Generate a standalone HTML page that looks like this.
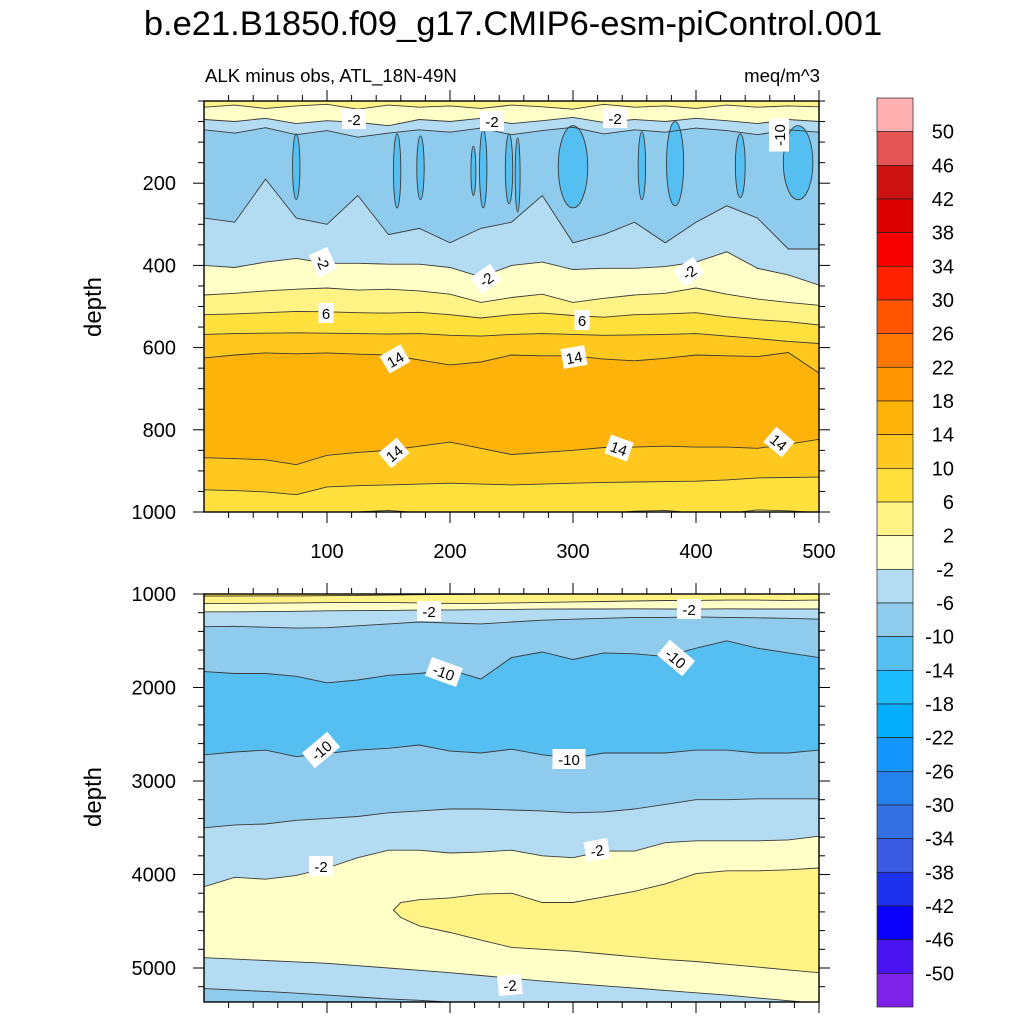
<!DOCTYPE html>
<html><head><meta charset="utf-8">
<style>
html,body{margin:0;padding:0;background:#fff;}
svg{display:block;font-family:"Liberation Sans",sans-serif;}
</style></head>
<body>
<svg id="chart" width="1024" height="1024" viewBox="0 0 1024 1024" xmlns="http://www.w3.org/2000/svg">
<defs>
<clipPath id="clipTop"><rect x="204" y="101" width="615" height="411"/></clipPath>
<clipPath id="clipBot"><rect x="204" y="594" width="615" height="408"/></clipPath>
</defs>
<text x="513" y="35" font-size="34.5" text-anchor="middle" fill="#000">b.e21.B1850.f09_g17.CMIP6-esm-piControl.001</text>
<text x="205" y="82" font-size="18.6" fill="#000">ALK minus obs, ATL_18N-49N</text>
<text x="820" y="82" font-size="18.6" text-anchor="end" fill="#000">meq/m^3</text>
<text transform="translate(101,307) rotate(-90)" font-size="24" text-anchor="middle">depth</text>
<text transform="translate(101,797) rotate(-90)" font-size="24" text-anchor="middle">depth</text>
<g id="topPanel"></g>
<g id="botPanel"></g>
<g id="colorbar"></g>
</svg>
<script>
const YEARS = [0,25,50,75,100,125,150,175,200,225,250,275,300,325,350,375,400,425,450,475,500];
// top panel contour boundaries (depth, m)
const top_b2   = [15,10,18,12,8,20,10,15,12,18,10,14,20,8,15,12,18,10,15,12,14];
const top_bm2a = [45,50,42,55,48,52,60,45,50,42,55,48,40,52,45,50,42,48,55,45,50];
const top_bm6a = [70,78,65,82,72,88,78,70,76,66,82,72,64,80,70,76,66,72,82,70,76];
const top_bm6b = [285,295,190,285,300,230,325,310,345,310,295,230,345,325,295,345,295,255,285,360,360];
const top_bm2b = [400,405,392,383,395,395,397,397,405,428,400,392,410,407,407,403,392,367,407,423,448];
const top_b2b  = [472,468,462,458,455,460,458,462,470,490,478,470,490,480,472,468,455,470,482,490,497];
const top_b6   = [520,518,515,512,513,515,516,514,520,528,520,516,522,526,520,518,515,525,532,537,545];
const top_b10  = [568,566,565,564,565,566,567,566,570,572,568,566,568,570,569,568,566,572,578,585,590];
const top_b14a = [625,618,613,615,613,616,618,630,642,635,618,620,620,628,632,626,618,620,622,612,662];
const top_b14b = [868,870,873,885,862,855,850,840,830,845,860,855,850,843,842,840,842,842,845,835,823];
const top_b10b = [946,948,951,958,939,936,934,932,930,932,934,932,930,928,927,926,925,922,917,916,915];
const top_b6b  = [1005,1004,1003,1004,1002,1000,996,1002,1004,1003,1005,1003,1002,1004,998,996,1003,1004,995,997,1002];
// -14..-10 patches in top panel
const blobYears = [75,157,176,219,227,255,248,300,356,383,436,483];
const blobTop   = [80,80,85,110,70,90,80,60,75,50,80,60];
const blobBot   = [240,260,240,230,260,270,250,260,240,255,235,240];
const blobHalf  = [3,3,3,2,3,2,3,12,3,7,4,12];
// bottom panel boundaries
const bot_b6   = [1022,1022,1020,1020,1018,1015,1012,1008,1004,1000,1000,1000,1000,1000,1000,1000,1000,1000,1000,1000,1000];
const bot_b2   = [1100,1100,1098,1095,1092,1090,1090,1095,1100,1100,1095,1090,1085,1080,1075,1070,1068,1065,1065,1068,1065];
const bot_bm2  = [1190,1190,1188,1185,1180,1178,1175,1172,1170,1168,1165,1162,1160,1160,1158,1160,1162,1158,1160,1160,1160];
const bot_bm6  = [1350,1345,1355,1365,1360,1340,1320,1300,1310,1320,1300,1280,1270,1260,1250,1250,1245,1250,1255,1260,1270];
const bot_bm10a= [1830,1850,1850,1880,1950,1920,1870,1850,1810,1910,1680,1620,1700,1630,1640,1670,1580,1500,1580,1630,1680];
const bot_bm10b= [2720,2690,2670,2740,2705,2670,2650,2615,2680,2700,2660,2720,2755,2700,2700,2700,2670,2670,2700,2700,2670];
const bot_bm6b = [3500,3470,3460,3420,3400,3380,3340,3320,3300,3300,3310,3320,3340,3330,3300,3250,3200,3200,3190,3190,3190];
const bot_bm2b = [4130,4030,4050,4010,3930,3820,3740,3740,3770,3760,3740,3800,3820,3750,3750,3660,3640,3640,3640,3630,3590];
const bot_bm2c = [4890,4905,4920,4935,4950,4975,5000,5025,5050,5080,5110,5140,5165,5190,5215,5240,5265,5290,5320,5350,5380];
const bot_bm6c = [5220,5235,5250,5270,5290,5310,5330,5345,5365,5390,5410,5430,5450,5470,5490,5510,5530,5550,5570,5590,5610];
const wedgeYears = [154,160,175,200,225,250,275,300,325,350,375,400,425,450,475,500];
const wedgeUpper = [4380,4300,4270,4250,4210,4200,4300,4300,4240,4180,4100,3990,3960,3960,3950,3930];
const wedgeLower = [4380,4460,4550,4620,4700,4780,4800,4820,4850,4880,4910,4930,4960,4990,5020,5050];
// colorbar
const cbLabels = ["50","46","42","38","34","30","26","22","18","14","10","6","2","-2","-6","-10","-14","-18","-22","-26","-30","-34","-38","-42","-46","-50"];
const cbColors = ["#ffb0b0","#e55555","#cc1111","#dd0000","#f80000","#ff2200","#ff5500","#ff7700","#ff9500","#feb30a","#fec81e","#ffe03c","#fff385","#ffffc8","#b3dcf2","#8ecbec","#56bff2","#1bbcfc","#04aefc","#1496fc","#2382ec","#3270e4","#3a5ae2","#1e32ee","#0a00fc","#4a14f2","#7e22ea"];
const topTicks = [200,400,600,800,1000];
const botTicks = [1000,2000,3000,4000,5000];
const xTicks = [100,200,300,400,500];

const C = {p2:"#fff385",p6:"#ffe03c",p10:"#fec81e",p14:"#feb30a",z:"#ffffc8",m2:"#b3dcf2",m6:"#8ecbec",m10:"#56bff2"};
const NS = "http://www.w3.org/2000/svg";
const X0=204, X1=819;
const xS = y => X0 + (y/500)*(X1-X0);
const yTop = d => 101 + d*0.411;
const yBot = d => 594 + (d-1000)*0.0935;

function mk(tag, attrs, parent){
  const e = document.createElementNS(NS, tag);
  for (const k in attrs) e.setAttribute(k, attrs[k]);
  parent.appendChild(e); return e;
}
function linePts(xs, ds, yf){ return xs.map((y,i)=>xS(y).toFixed(1)+","+yf(ds[i]).toFixed(1)); }
function drawPanel(g, clipId, yf, dTop, dBot, bounds, colors){
  const cg = mk("g", {"clip-path":"url(#"+clipId+")"}, g);
  const edges = [YEARS.map(()=>dTop-10)].concat(bounds).concat([YEARS.map(()=>dBot+50)]);
  for (let i=0;i<edges.length-1;i++){
    const a = linePts(YEARS, edges[i], yf);
    const b = linePts(YEARS, edges[i+1], yf).reverse();
    const p = mk("polygon", {points:a.concat(b).join(" "), fill:colors[i], stroke:colors[i], "stroke-width":"0.6"}, cg);
    
    
  }
  return cg;
}
function drawLines(cg, bounds, yf){
  bounds.forEach(bd=>{
    const l = mk("polyline", {points:linePts(YEARS, bd, yf).join(" "), fill:"none", stroke:"#3a3a3a", "stroke-width":"0.9"}, cg);
    
    
  });
}
function frame(g, yt, yb, yTicksArr, yf, minorStep, dmin, dmax, showX){
  mk("rect",{x:X0,y:yt,width:X1-X0,height:yb-yt,fill:"none",stroke:"#000","stroke-width":"1.4"},g);
  for (let d=dmin; d<=dmax; d+=minorStep){
    const y=yf(d); if (y<yt-0.5||y>yb+0.5) continue;
    const major = yTicksArr.includes(d);
    const L = major?11:6;
    mk("line",{x1:X0-L,x2:X0,y1:y,y2:y,stroke:"#000","stroke-width":"1"},g);
    mk("line",{x1:X1,x2:X1+L,y1:y,y2:y,stroke:"#000","stroke-width":"1"},g);
  }
  yTicksArr.forEach(d=>{
    const t = mk("text",{x:X0-28,y:yf(d)+7,"font-size":"20","text-anchor":"end"},g);
    t.textContent = d;
    
    
  });
  for (let yr=20; yr<=500; yr+=20){
    const x=xS(yr); const major = xTicks.includes(yr); const L = major?11:6;
    mk("line",{x1:x,x2:x,y1:yt-L,y2:yt,stroke:"#000","stroke-width":"1"},g);
    mk("line",{x1:x,x2:x,y1:yb,y2:yb+L,stroke:"#000","stroke-width":"1"},g);
  }
  if (showX) xTicks.forEach(v=>{
    const t = mk("text",{x:xS(v),y:yb+46,"font-size":"20","text-anchor":"middle"},g);
    t.textContent = v;
    
    
  });
}
function clabel(g, x, y, ang, txt){
  const gg = mk("g",{transform:`translate(${x},${y}) rotate(${ang})`},g);
  
  
  const w = txt.length*9+6;
  mk("rect",{x:-w/2,y:-10,width:w,height:20,fill:"#fff"},gg);
  const t = mk("text",{x:0,y:6,"font-size":"15","text-anchor":"middle"},gg);
  t.textContent = txt;
}

// TOP PANEL
const tg = document.getElementById("topPanel");
const topBounds = [top_b2,top_bm2a,top_bm6a,top_bm6b,top_bm2b,top_b2b,top_b6,top_b10,top_b14a,top_b14b,top_b10b,top_b6b];
const topColors = [C.p2,C.z,C.m2,C.m6,C.m2,C.z,C.p2,C.p6,C.p10,C.p14,C.p10,C.p6,C.p2];
const tcg = drawPanel(tg,"clipTop",yTop,0,1000,topBounds,topColors);
blobYears.forEach((yr,i)=>{
  const cx = xS(yr), rx = xS(blobHalf[i])-X0;
  const cy = (yTop(blobTop[i])+yTop(blobBot[i]))/2, ry=(yTop(blobBot[i])-yTop(blobTop[i]))/2;
  const e = mk("ellipse",{cx:cx,cy:cy,rx:rx,ry:ry,fill:C.m10,stroke:"#3a3a3a","stroke-width":"0.9"},tcg);
  
  
});
drawLines(tcg, topBounds, yTop);
frame(tg,101,512,topTicks,yTop,50,0,1000,true);
clabel(tg,354,119,0,"-2"); clabel(tg,492,121,0,"-2"); clabel(tg,615,118,0,"-2");
clabel(tg,779,135,-90,"-10"); clabel(tg,323,262,65,"-2"); clabel(tg,486,279,-35,"-2");
clabel(tg,689,272,-35,"-2"); clabel(tg,326,313,0,"6"); clabel(tg,582,320,0,"6");
clabel(tg,395,359,-30,"14"); clabel(tg,574,357,-10,"14"); clabel(tg,394,453,-40,"14");
clabel(tg,619,448,20,"14"); clabel(tg,779,442,40,"14");

// BOTTOM PANEL
const bg = document.getElementById("botPanel");
const botBounds = [bot_b6,bot_b2,bot_bm2,bot_bm6,bot_bm10a,bot_bm10b,bot_bm6b,bot_bm2b,bot_bm2c,bot_bm6c];
const botColors = [C.p6,C.p2,C.z,C.m2,C.m6,C.m10,C.m6,C.m2,C.z,C.m2,C.m6];
const bcg = drawPanel(bg,"clipBot",yBot,1000,5364,botBounds,botColors);
{
  const a = linePts(wedgeYears, wedgeUpper, yBot), b = linePts(wedgeYears, wedgeLower, yBot).reverse();
  const w = mk("polygon",{points:a.concat(b).join(" "),fill:C.p2,stroke:"#3a3a3a","stroke-width":"0.9"},bcg);
  
  
}
drawLines(bcg, botBounds, yBot);
frame(bg,594,1002,botTicks,yBot,200,1000,5400,false);
clabel(bg,429,611,0,"-2"); clabel(bg,689,609,0,"-2"); clabel(bg,444,672,20,"-10");
clabel(bg,676,658,40,"-10"); clabel(bg,321,750,-40,"-10"); clabel(bg,569,759,0,"-10");
clabel(bg,321,866,0,"-2"); clabel(bg,597,850,-10,"-2"); clabel(bg,510,985,-5,"-2");

// COLORBAR
const cb = document.getElementById("colorbar");
const cbTop=98, cbBot=1007, cbH=(cbBot-cbTop)/cbColors.length;
cbColors.forEach((c,i)=>{
  const r = mk("rect",{x:877,y:cbTop+i*cbH,width:36,height:cbH,fill:c,stroke:"#222","stroke-width":"0.7"},cb);
  
  
});
cbLabels.forEach((l,i)=>{
  const t = mk("text",{x:954,y:cbTop+(i+1)*cbH+7,"font-size":"20","text-anchor":"end"},cb);
  t.textContent = l;
  
  
});
</script>
</body></html>
